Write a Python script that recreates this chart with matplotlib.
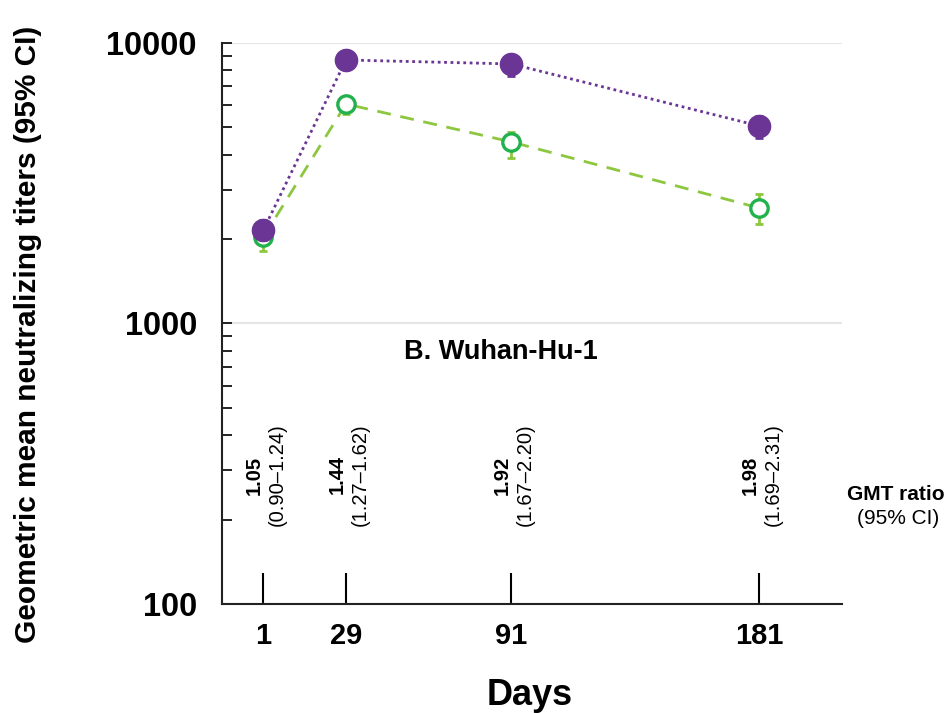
import matplotlib
matplotlib.use("Agg")
import matplotlib.pyplot as plt
import numpy as np
from matplotlib.ticker import LogLocator, NullFormatter, FixedLocator

plt.rcParams['font.family'] = ['Liberation Sans', 'DejaVu Sans']

days = ["1", "29", "91", "181"]
day_pos = [0, 1, 3, 6]

purple_gmt = [2150, 8700, 8420, 5060]
purple_lo = [1990, 8200, 7630, 4580]
purple_hi = [2330, 9150, 9000, 5500]

green_gmt = [2030, 6060, 4440, 2580]
green_lo = [1810, 5580, 3890, 2270]
green_hi = [2190, 6470, 4820, 2890]

ratio_vals = ["1.05", "1.44", "1.92", "1.98"]
ratio_ci = ["(0.90\u20131.24)", "(1.27\u20131.62)", "(1.67\u20132.20)", "(1.69\u20132.31)"]

purple = "#6A3594"
green_edge = "#22B14C"
green_line = "#8DC63F"

fig = plt.figure(figsize=(9.51, 7.13), dpi=100)
ax = fig.add_axes([0.2334, 0.1529, 0.652, 0.7868])

ax.set_yscale("log")
ax.set_ylim(100, 10000)
ax.set_xlim(-0.5, 7)

ax.grid(True, axis="y", which="major", color="#e6e6e6", linewidth=1.5)
ax.set_axisbelow(True)

pe = [np.array(purple_gmt) - np.array(purple_lo), np.array(purple_hi) - np.array(purple_gmt)]
ge = [np.array(green_gmt) - np.array(green_lo), np.array(green_hi) - np.array(green_gmt)]

ax.plot(day_pos, green_gmt, linestyle=(0, (5, 3.5)), color=green_line, linewidth=2, zorder=2)
ax.errorbar(day_pos, green_gmt, yerr=ge, fmt="none", ecolor=green_line, elinewidth=2,
            capsize=2.8, capthick=2, zorder=3)
ax.plot(day_pos, green_gmt, linestyle="none", marker="o", markersize=12.5,
        markerfacecolor="white", markeredgecolor=green_edge, markeredgewidth=2.4, zorder=4)

ax.plot(day_pos, purple_gmt, linestyle=(0, (1, 1.3)), color=purple, linewidth=2, zorder=5)
ax.errorbar(day_pos, purple_gmt, yerr=pe, fmt="none", ecolor=purple, elinewidth=2,
            capsize=3, capthick=2, zorder=6)
ax.plot(day_pos, purple_gmt, linestyle="none", marker="o", markersize=16,
        markerfacecolor=purple, markeredgecolor=purple, zorder=7)

for s in ["top", "right"]:
    ax.spines[s].set_visible(False)
for s in ["left", "bottom"]:
    ax.spines[s].set_linewidth(1.5)
    ax.spines[s].set_color("#222222")

ax.yaxis.set_major_locator(FixedLocator([100, 1000, 10000]))
ax.yaxis.set_minor_locator(LogLocator(base=10, subs=np.arange(2, 10), numticks=10))
ax.yaxis.set_minor_formatter(NullFormatter())
ax.set_yticklabels(["100", "1000", "10000"], fontsize=23.5, fontweight="bold")
ax.tick_params(axis="y", which="both", direction="in", length=7, width=1.2, pad=18)

ax.set_xticks(day_pos)
ax.set_xticklabels(days, fontsize=21, fontweight="bold")
ax.tick_params(axis="x", direction="in", length=22, width=1.5, pad=13)

ax.set_xlabel("Days", fontsize=26, fontweight="bold")
ax.xaxis.set_label_coords(0.497, -0.132)
ax.set_ylabel("Geometric mean neutralizing titers (95% CI)", fontsize=21.5,
              fontweight="bold")
ax.yaxis.set_label_coords(-0.29, 0.48)

ax.text(2.87, 1000 * 10 ** (-0.1), "B. Wuhan-Hu-1", fontsize=19.5, fontweight="bold",
        ha="center", va="center")

ybox = 10 ** 2.46
for p, v, c in zip(day_pos, ratio_vals, ratio_ci):
    ax.text(p - 0.11, ybox, v, rotation=90, fontsize=14.5, fontweight="bold",
            ha="center", va="center")
    ax.text(p + 0.17, ybox, c, rotation=90, fontsize=14.5,
            ha="center", va="center")

ax.text(7.65, 10 ** 2.39, "GMT ratio", fontsize=15, fontweight="bold",
        ha="center", va="center", clip_on=False)
ax.text(7.68, 10 ** 2.305, "(95% CI)", fontsize=15,
        ha="center", va="center", clip_on=False)

fig.savefig("out.png", dpi=100)
